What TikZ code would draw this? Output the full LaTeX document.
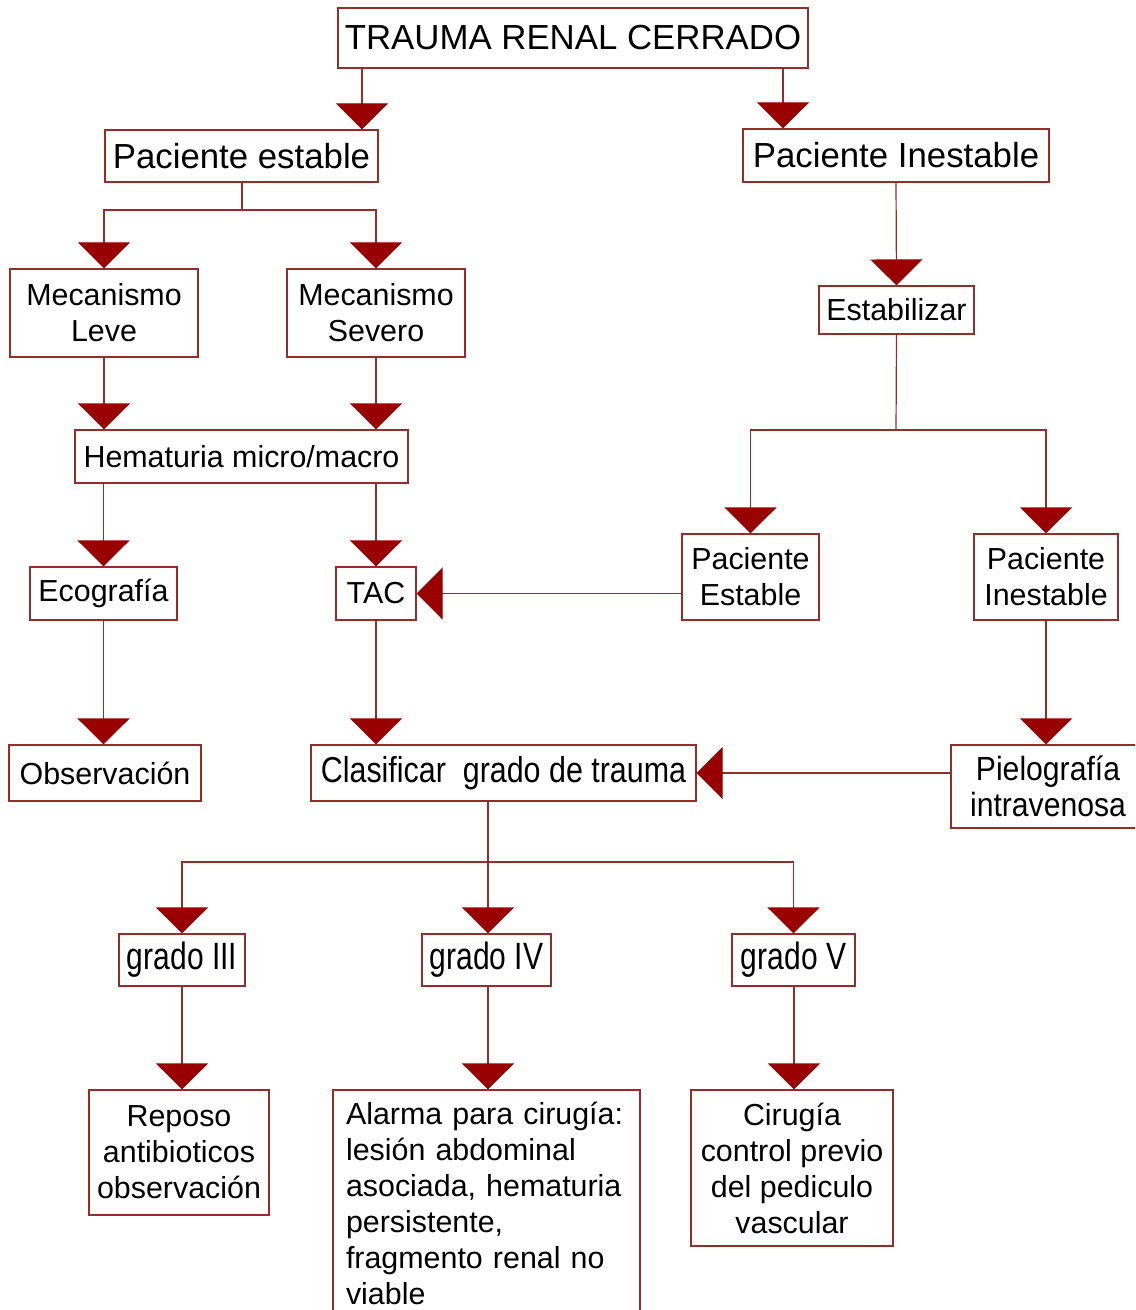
\documentclass[tikz,border=0pt]{standalone}
\usepackage{fontspec}
\setmainfont{Liberation Sans}
\newfontfamily\narrowfont[FakeStretch=0.845]{Liberation Sans}
\newfontfamily\pielofont[FakeStretch=0.9]{Liberation Sans}
\newfontfamily\gradofont[FakeStretch=0.79]{Liberation Sans}
\usetikzlibrary{arrows.meta}
\definecolor{linecol}{RGB}{150,45,45}
\definecolor{tipcol}{RGB}{153,0,0}
\tikzset{
  box/.style={draw=linecol, line width=0.6pt, fill=white, inner sep=0pt,
    align=center, font=\fontsize{15.2}{18}\selectfont},
  bigbox/.style={box, font=\fontsize{17.4}{18}\selectfont},
  wire/.style={draw=linecol, line width=0.6pt},
  arr/.style={wire, -{Triangle[width=26pt,length=13pt,color=tipcol]}}
}
\begin{document}
\begin{tikzpicture}[x=0.5pt,y=-0.5pt]
\useasboundingbox (0,0) rectangle (1135,1310);
\clip (0,0) rectangle (1135,1310);
\fill[white] (0,0) rectangle (1135,1310);

% boxes
\node[bigbox, minimum width=235pt, minimum height=30pt] (title) at (573,38) {TRAUMA RENAL CERRADO};
\node[bigbox, minimum width=136.5pt, minimum height=26pt] (pe) at (241.5,156) {Paciente estable};
\node[bigbox, minimum width=153pt, minimum height=26.5pt] (pi) at (896,155.5) {Paciente Inestable};
\node[box, minimum width=94pt, minimum height=44pt] (ml) at (104,313) {Mecanismo\\Leve};
\node[box, minimum width=89pt, minimum height=44pt] (ms) at (376,313) {Mecanismo\\Severo};
\node[box, minimum width=166.5pt, minimum height=26.5pt] (hem) at (241.5,456.5) {Hematuria micro/macro};
\node[box, minimum width=77.5pt, minimum height=24pt] (est) at (896.5,310) {Estabilizar};
\node[box, minimum width=73.5pt, minimum height=26.5pt] (eco) at (103.5,593.5) {Ecografía};
\node[box, minimum width=40pt, minimum height=26.5pt] (tac) at (376,593.5) {TAC};
\node[box, minimum width=68.5pt, minimum height=43pt] (pE) at (750.5,577) {Paciente\\Estable};
\node[box, minimum width=72pt, minimum height=43pt] (pI) at (1046,577) {Paciente\\Inestable};
\node[box, minimum width=96pt, minimum height=28pt] (obs) at (105,773) {Observación};
\node[box, font=\narrowfont\fontsize{18}{18}\selectfont, minimum width=192.5pt, minimum height=28pt] (cla) at (503.5,773) {Clasificar\ \ grado de trauma};
\node[box, font=\pielofont\fontsize{16.75}{18}\selectfont, minimum width=97pt, minimum height=41.5pt] (pie) at (1048,786.5) {Pielografía\\intravenosa};
\node[box, font=\gradofont\fontsize{19}{18}\selectfont, minimum width=63pt, minimum height=26pt] (g3) at (182,960) {grado III};
\node[box, font=\gradofont\fontsize{19}{18}\selectfont, minimum width=64.5pt, minimum height=26pt] (g4) at (486.5,960) {grado IV};
\node[box, font=\gradofont\fontsize{19}{18}\selectfont, minimum width=61.5pt, minimum height=26pt] (g5) at (793.5,960) {grado V};
\node[box, minimum width=90pt, minimum height=62.5pt] (rep) at (179,1152.5) {Reposo\\antibioticos\\observación};
\node[box, align=left, text width=140.5pt, inner xsep=6.5pt, minimum width=153.5pt, minimum height=113pt] (ala) at (486.5,1203)
  {Alarma para cirugía:\\lesión abdominal\\asociada, hematuria\\persistente,\\fragmento renal no\\viable};
\node[box, minimum width=101pt, minimum height=78pt] (cir) at (792,1168) {Cirugía\\control previo\\del pediculo\\vascular};

% junction points of the branching connectors
\coordinate (j1) at (242,210);
\coordinate (j2) at (896,430);
\coordinate (j3) at (488,862);

% connectors
\draw[arr] (362,0 |- title.south) -- (362,0 |- pe.north);
\draw[arr] (783,0 |- title.south) -- (783,0 |- pi.north);

\draw[wire] (242,0 |- pe.south) -- (j1);
\draw[arr] (j1) -| (ml.north);
\draw[arr] (j1) -| (ms.north);

\draw[arr] (ml.south) -- (ml.south |- hem.north);
\draw[arr] (ms.south) -- (ms.south |- hem.north);
\draw[arr] (eco.north |- hem.south) -- (eco.north);
\draw[arr] (tac.north |- hem.south) -- (tac.north);
\draw[arr] (eco.south) -- (eco.south |- obs.north);
\draw[arr] (tac.south) -- (tac.south |- cla.north);

\draw[arr] (pi.south) -- (est.north);
\draw[wire] (est.south) -- (j2);
\draw[arr] (j2) -| (pE.north);
\draw[arr] (j2) -| (pI.north);
\draw[arr] (pE.west |- tac.east) -- (tac.east);
\draw[arr] (pI.south) -- (pI.south |- pie.north);
\draw[arr] (pie.west |- cla.east) -- (cla.east);

\draw[wire] (488,0 |- cla.south) -- (j3);
\draw[arr] (j3) -| (g3.north);
\draw[arr] (j3) -- (j3 |- g4.north);
\draw[arr] (j3) -| (g5.north);

\draw[arr] (g3.south) -- (g3.south |- rep.north);
\draw[arr] (488,0 |- g4.south) -- (488,0 |- ala.north);
\draw[arr] (794,0 |- g5.south) -- (794,0 |- cir.north);
\end{tikzpicture}
\end{document}
